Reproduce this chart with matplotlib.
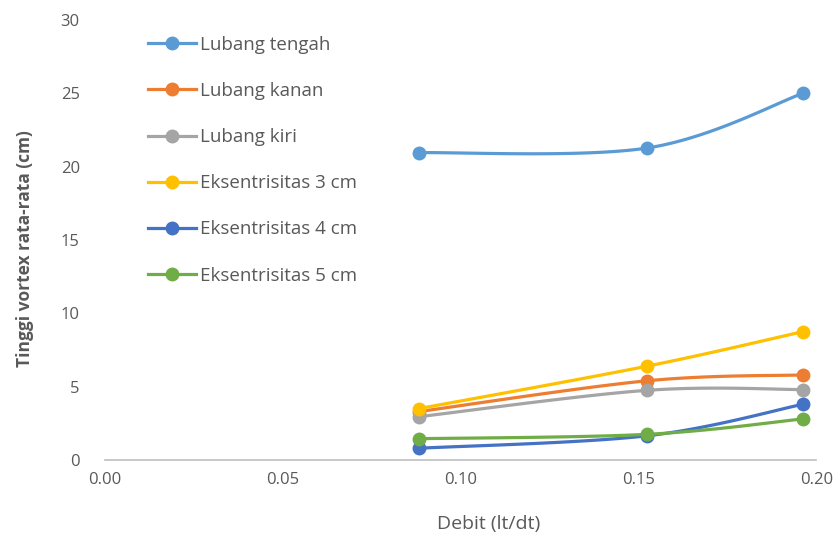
import numpy as np
import matplotlib
matplotlib.use("Agg")
import matplotlib.pyplot as plt
from matplotlib.lines import Line2D

debit = [0.0883, 0.1525, 0.1963]
series_names = ["Lubang tengah", "Lubang kanan", "Lubang kiri",
                "Eksentrisitas 3 cm", "Eksentrisitas 4 cm", "Eksentrisitas 5 cm"]
lubang_tengah = [20.95, 21.27, 25.0]
lubang_kanan = [3.3, 5.4, 5.8]
lubang_kiri = [2.95, 4.75, 4.8]
eksentrisitas_3 = [3.5, 6.4, 8.75]
eksentrisitas_4 = [0.8, 1.65, 3.8]
eksentrisitas_5 = [1.45, 1.75, 2.8]
colors = ["#5B9BD5", "#ED7D31", "#A5A5A5", "#FFC000", "#4472C4", "#70AD47"]
xticks = [0.00, 0.05, 0.10, 0.15, 0.20]
yticks = [0, 5, 10, 15, 20, 25, 30]

all_series = [lubang_tengah, lubang_kanan, lubang_kiri,
              eksentrisitas_3, eksentrisitas_4, eksentrisitas_5]


def smooth(x, y, n=40):
    """Catmull-Rom style Bezier smoothing between the points."""
    x = np.asarray(x, float)
    y = np.asarray(y, float)
    pts = np.column_stack([x, y])
    out = [pts[:1]]
    for i in range(len(pts) - 1):
        p0 = pts[i - 1] if i > 0 else pts[i]
        p1 = pts[i]
        p2 = pts[i + 1]
        p3 = pts[i + 2] if i + 2 < len(pts) else pts[i + 1]
        c1 = p1 + (p2 - p0) / 6.0
        c2 = p2 - (p3 - p1) / 6.0
        t = np.linspace(0, 1, n)[1:, None]
        seg = ((1 - t) ** 3) * p1 + 3 * ((1 - t) ** 2) * t * c1 \
            + 3 * (1 - t) * t ** 2 * c2 + t ** 3 * p2
        out.append(seg)
    s = np.vstack(out)
    return s[:, 0], s[:, 1]


plt.rcParams['font.family'] = ['Open Sans', 'DejaVu Sans']
fig = plt.figure(figsize=(8.38, 5.39), dpi=100)
ax = fig.add_axes([0.125, 0.1466, 0.849, 0.8164])

for name, vals, c in zip(series_names, all_series, colors):
    sx, sy = smooth(debit, vals)
    ax.plot(sx, sy, color=c, lw=2.3, solid_capstyle='round', zorder=2)
    ax.plot(debit, vals, 'o', color=c, ms=9, zorder=3)

ax.set_xlim(0, 0.20)
ax.set_ylim(0, 30)
ax.set_xticks(xticks)
ax.set_xticklabels([f"{v:.2f}" for v in xticks])
ax.set_yticks(yticks)
ax.tick_params(axis='x', length=0, labelsize=12, colors="#595959", pad=9)
ax.tick_params(axis='y', length=0, labelsize=12, colors="#595959", pad=18)
for s in ["top", "right", "left"]:
    ax.spines[s].set_visible(False)
ax.spines["bottom"].set_color("#BFBFBF")
ax.spines["bottom"].set_linewidth(1.2)

ax.set_xlabel("Debit (lt/dt)", fontsize=14, color="#595959")
ax.xaxis.set_label_coords(0.54, -0.125)
ax.set_ylabel("Tinggi vortex rata-rata (cm)", fontsize=12.5, color="#595959",
              fontweight="bold")
ax.yaxis.set_label_coords(-0.099, 0.48)

handles = [Line2D([0], [0], color=c, lw=2.3, marker='o', ms=9) for c in colors]
leg = ax.legend(handles, series_names, loc="upper left", frameon=False,
                fontsize=13.5, labelspacing=1.5, handlelength=2.55,
                handletextpad=0.2, bbox_to_anchor=(0.039, 1.0),
                borderaxespad=0.45)
for t in leg.get_texts():
    t.set_color("#595959")

fig.savefig("out.png", dpi=100)
